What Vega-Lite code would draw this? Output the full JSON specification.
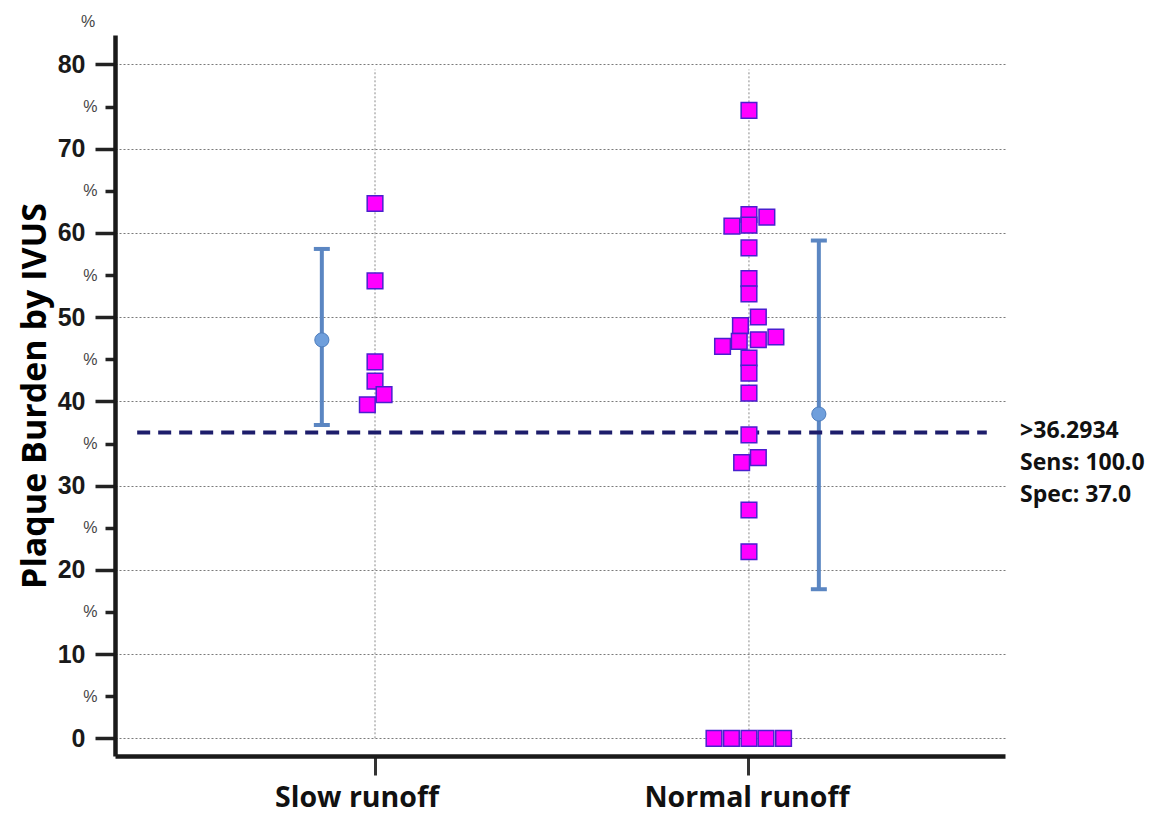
{
  "$schema": "https://vega.github.io/schema/vega-lite/v6.json",
  "width": 890,
  "height": 721,
  "autosize": "none",
  "padding": {"left": 115, "top": 35, "right": 145, "bottom": 58},
  "background": "white",
  "config": {"view": {"stroke": null}},
  "datasets": {
    "groups": [{"group": "Slow runoff"}, {"group": "Normal runoff"}],
    "points": [
      {"group": "Slow runoff", "value": 63.5, "jitter": 0},
      {"group": "Slow runoff", "value": 54.3, "jitter": 0},
      {"group": "Slow runoff", "value": 44.7, "jitter": 0},
      {"group": "Slow runoff", "value": 42.4, "jitter": 0},
      {"group": "Slow runoff", "value": 40.8, "jitter": 0.53},
      {"group": "Slow runoff", "value": 39.6, "jitter": -0.45},
      {"group": "Normal runoff", "value": 74.55, "jitter": 0},
      {"group": "Normal runoff", "value": 62.19, "jitter": 0},
      {"group": "Normal runoff", "value": 61.87, "jitter": 1.05},
      {"group": "Normal runoff", "value": 60.92, "jitter": 0},
      {"group": "Normal runoff", "value": 60.8, "jitter": -1.0},
      {"group": "Normal runoff", "value": 58.22, "jitter": 0},
      {"group": "Normal runoff", "value": 54.58, "jitter": 0},
      {"group": "Normal runoff", "value": 52.76, "jitter": 0},
      {"group": "Normal runoff", "value": 50.02, "jitter": 0.55},
      {"group": "Normal runoff", "value": 48.99, "jitter": -0.5},
      {"group": "Normal runoff", "value": 47.65, "jitter": 1.58},
      {"group": "Normal runoff", "value": 47.32, "jitter": 0.55},
      {"group": "Normal runoff", "value": 47.12, "jitter": -0.57},
      {"group": "Normal runoff", "value": 46.53, "jitter": -1.55},
      {"group": "Normal runoff", "value": 45.15, "jitter": 0},
      {"group": "Normal runoff", "value": 43.36, "jitter": 0},
      {"group": "Normal runoff", "value": 40.98, "jitter": 0},
      {"group": "Normal runoff", "value": 36.03, "jitter": 0},
      {"group": "Normal runoff", "value": 33.33, "jitter": 0.55},
      {"group": "Normal runoff", "value": 32.73, "jitter": -0.43},
      {"group": "Normal runoff", "value": 27.11, "jitter": 0},
      {"group": "Normal runoff", "value": 22.15, "jitter": 0},
      {"group": "Normal runoff", "value": 0, "jitter": -2.05},
      {"group": "Normal runoff", "value": 0, "jitter": -1.03},
      {"group": "Normal runoff", "value": 0, "jitter": 0},
      {"group": "Normal runoff", "value": 0, "jitter": 1.0},
      {"group": "Normal runoff", "value": 0, "jitter": 2.03}
    ],
    "errbars": [
      {"group": "Slow runoff", "mean": 47.3, "low": 37.2, "high": 58.1, "jitter": -3.12},
      {"group": "Normal runoff", "mean": 38.5, "low": 17.7, "high": 59.1, "jitter": 4.1}
    ],
    "cutoff": [
      {"threshold": 36.2934, "lines": [">36.2934", "Sens: 100.0", "Spec: 37.0"]}
    ],
    "toplabel": [{"v": 85, "t": "%"}]
  },
  "layer": [
    {
      "data": {"name": "groups"},
      "mark": {"type": "rule", "color": "#8a8a8a", "strokeWidth": 1, "strokeDash": [2, 2]},
      "encoding": {
        "x": {
          "field": "group", "type": "nominal",
          "sort": ["Slow runoff", "Normal runoff"],
          "scale": {"domain": ["Slow runoff", "Normal runoff"], "paddingInner": 0, "paddingOuter": 0.19, "align": 0.514},
          "axis": {
            "title": null, "labelAngle": 0, "grid": false,
            "domainWidth": 4.5, "domainColor": "#1a1a1a",
            "tickColor": "#333333", "tickSize": 19, "tickWidth": 3,
            "labelFont": "Open Sans", "labelFontSize": 28.5, "labelFontWeight": "bold",
            "labelColor": "#111111", "labelPadding": 8, "labelLimit": 0,
            "labelOffset": {"condition": {"test": "datum.value === 'Slow runoff'", "value": -18}, "value": -2}
          }
        },
        "y": {"datum": 0, "type": "quantitative"},
        "y2": {"datum": 79.4}
      }
    },
    {
      "data": {"name": "errbars"},
      "mark": {"type": "rule", "color": "#5b86c2", "strokeWidth": 4},
      "encoding": {
        "x": {"field": "group", "type": "nominal"},
        "xOffset": {"field": "jitter", "type": "quantitative", "scale": {"domain": [-10.97, 10.97]}},
        "y": {"field": "low", "type": "quantitative"},
        "y2": {"field": "high"}
      }
    },
    {
      "data": {"name": "errbars"},
      "mark": {"type": "tick", "color": "#5b86c2", "size": 16, "thickness": 4, "opacity": 1},
      "encoding": {
        "x": {"field": "group", "type": "nominal"},
        "xOffset": {"field": "jitter", "type": "quantitative"},
        "y": {"field": "low", "type": "quantitative"}
      }
    },
    {
      "data": {"name": "errbars"},
      "mark": {"type": "tick", "color": "#5b86c2", "size": 16, "thickness": 4, "opacity": 1},
      "encoding": {
        "x": {"field": "group", "type": "nominal"},
        "xOffset": {"field": "jitter", "type": "quantitative"},
        "y": {"field": "high", "type": "quantitative"}
      }
    },
    {
      "data": {"name": "cutoff"},
      "mark": {"type": "rule", "color": "#1d1d6b", "strokeWidth": 4, "strokeDash": [13, 8]},
      "encoding": {
        "x": {"datum": "Slow runoff", "bandPosition": -0.136},
        "x2": {"datum": "Normal runoff", "bandPosition": 1.136},
        "y": {"field": "threshold", "type": "quantitative"}
      }
    },
    {
      "data": {"name": "errbars"},
      "mark": {"type": "point", "shape": "circle", "filled": true, "size": 200, "fill": "#6f9fdc", "stroke": "#4d7dbd", "strokeWidth": 1, "opacity": 1},
      "encoding": {
        "x": {"field": "group", "type": "nominal"},
        "xOffset": {"field": "jitter", "type": "quantitative"},
        "y": {"field": "mean", "type": "quantitative"}
      }
    },
    {
      "data": {"name": "points"},
      "mark": {"type": "point", "shape": "square", "filled": true, "size": 245, "fill": "#ff00ff", "stroke": "#4a1fcf", "strokeWidth": 1.5, "opacity": 1},
      "encoding": {
        "x": {"field": "group", "type": "nominal"},
        "xOffset": {"field": "jitter", "type": "quantitative"},
        "y": {
          "field": "value", "type": "quantitative",
          "scale": {"domain": [-2.1, 83.5], "nice": false, "zero": false},
          "axis": {
            "title": "Plaque Burden by IVUS",
            "titleFont": "Open Sans", "titleFontSize": 34, "titleFontWeight": "bold",
            "titleColor": "#000000", "titlePadding": 5,
            "values": [0, 5, 10, 15, 20, 25, 30, 35, 40, 45, 50, 55, 60, 65, 70, 75, 80],
            "labelExpr": "datum.value % 10 === 0 ? datum.label : '%'",
            "labelFont": "Liberation Sans",
            "labelFontSize": {"condition": {"test": "datum.value % 10 === 0", "value": 25}, "value": 16},
            "labelFontWeight": {"condition": {"test": "datum.value % 10 === 0", "value": "bold"}, "value": "normal"},
            "labelColor": {"condition": {"test": "datum.value % 10 === 0", "value": "#1a1a1a"}, "value": "#444444"},
            "labelPadding": {"condition": {"test": "datum.value % 10 === 0", "value": 10}, "value": 8},
            "tickSize": {"condition": {"test": "datum.value % 10 === 0", "value": 20}, "value": 10},
            "tickWidth": 3.5, "tickColor": "#222222",
            "domainWidth": 4.5, "domainColor": "#1a1a1a",
            "grid": true, "gridColor": "#7a7a7a", "gridDash": [2, 2], "gridWidth": 1,
            "gridOpacity": {"condition": {"test": "datum.value % 10 === 0", "value": 1}, "value": 0}
          }
        }
      }
    },
    {
      "data": {"name": "cutoff"},
      "mark": {"type": "text", "align": "left", "baseline": "alphabetic", "dy": 5, "font": "Open Sans", "fontSize": 23, "fontWeight": "bold", "color": "#111111", "lineHeight": 32},
      "encoding": {
        "x": {"datum": "Normal runoff", "bandPosition": 1.225},
        "y": {"field": "threshold", "type": "quantitative"},
        "text": {"field": "lines"}
      }
    },
    {
      "data": {"name": "toplabel"},
      "mark": {"type": "text", "align": "center", "baseline": "middle", "font": "Liberation Sans", "fontSize": 16, "color": "#444444"},
      "encoding": {
        "x": {"datum": "Slow runoff", "bandPosition": -0.267},
        "y": {"field": "v", "type": "quantitative"},
        "text": {"field": "t"}
      }
    }
  ]
}
